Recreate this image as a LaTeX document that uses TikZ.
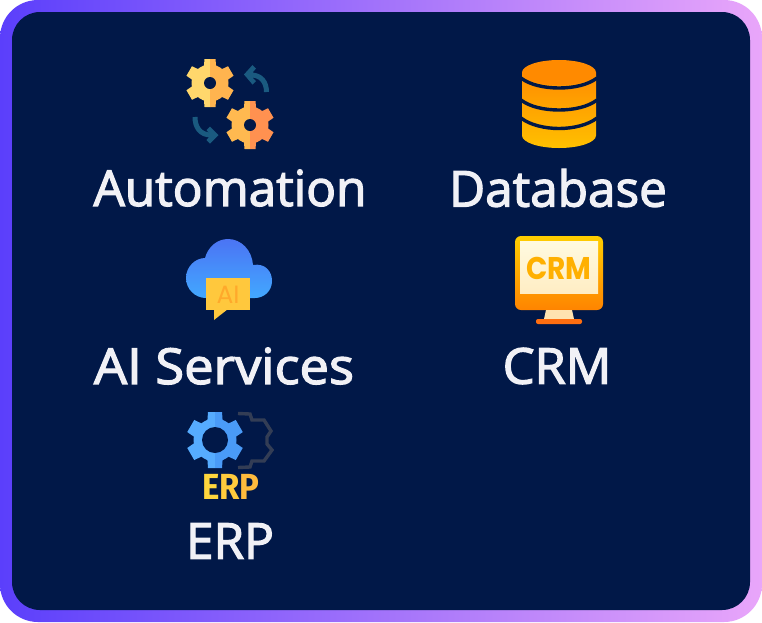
\documentclass[tikz,border=0pt]{standalone}
\usepackage{fontspec}
\setmainfont{Liberation Sans}
\newfontfamily\labelfont[FakeBold=2.5]{Open Sans}
\newfontfamily\iconfont{Poppins}
\newfontfamily\erpfont{Fira Sans}
\definecolor{panel}{HTML}{011848}
\definecolor{edgeL}{HTML}{5B3FFB}
\definecolor{edgeR}{HTML}{E9A6FA}
\definecolor{labelc}{HTML}{F1F1F6}
\definecolor{arrowc}{HTML}{1A5A80}
\definecolor{gearAl}{HTML}{FFD76C}
\definecolor{gearAr}{HTML}{FFB44F}
\definecolor{gearBl}{HTML}{FFB950}
\definecolor{gearBr}{HTML}{FF9150}
\definecolor{gearCl}{HTML}{56ACFF}
\definecolor{gearCr}{HTML}{4A9BF8}
\definecolor{gearD}{HTML}{333D55}
\definecolor{dbTop}{HTML}{FF8A00}
\definecolor{dbHi}{HTML}{FF8C00}
\definecolor{dbLo}{HTML}{FFC000}
\definecolor{cloudHi}{HTML}{4B74F4}
\definecolor{cloudLo}{HTML}{42A8FF}
\definecolor{bubble}{HTML}{FFC83D}
\definecolor{aitext}{HTML}{FFA92B}
\definecolor{monHi}{HTML}{FFCE00}
\definecolor{monLo}{HTML}{FF8400}
\definecolor{scrHi}{HTML}{FFFAE0}
\definecolor{scrLo}{HTML}{FFEDC4}
\definecolor{stand}{HTML}{FFE3B0}
\definecolor{foot}{HTML}{FF6E10}
\definecolor{crmtext}{HTML}{FFB000}
\definecolor{erpE}{HTML}{FFD63D}
\definecolor{erpR}{HTML}{FFCB3D}
\definecolor{erpP}{HTML}{FFBB3D}
\tikzset{
  lbl/.style={text=labelc,font=\labelfont\fontsize{49.5}{56}\selectfont,inner sep=0pt,anchor=center},
  flow/.style={draw=arrowc,line width=5pt},
  flowhead/.style={fill=arrowc},
  dbline/.style={draw=panel,line width=3.4pt}
}
% cx cy R bodyr rootw tipw left right hole
\newcommand{\geartwo}[9]{%
  \begin{scope}
    \clip (#1-40,#2-40) rectangle (#1,#2+40);
    \fill[#7] (#1,#2) circle (#4);
    \foreach \a in {0,60,...,300}{\fill[#7,shift={(#1,#2)},rotate=\a] (-#5,0) -- (-#6,-#3) -- (#6,-#3) -- (#5,0) -- cycle;}
  \end{scope}
  \begin{scope}
    \clip (#1,#2-40) rectangle (#1+40,#2+40);
    \fill[#8] (#1,#2) circle (#4);
    \foreach \a in {0,60,...,300}{\fill[#8,shift={(#1,#2)},rotate=\a] (-#5,0) -- (-#6,-#3) -- (#6,-#3) -- (#5,0) -- cycle;}
  \end{scope}
  \fill[panel] (#1,#2) circle (#9);
}
\begin{document}
\begin{tikzpicture}[x=1pt,y=-1pt]
\useasboundingbox (0,0) rectangle (762,622);
\fill[white] (0,0) rectangle (762,622);
% frame
\shade[left color=edgeL,right color=edgeR,rounded corners=38pt] (0,0) rectangle (762,622);
\fill[panel,rounded corners=28pt] (12,12) rectangle (750,610);

% Automation icon
\geartwo{210}{83}{24}{18.5}{7.5}{5.5}{gearAl}{gearAr}{6}
\geartwo{250}{125}{24}{18.5}{7.5}{5.5}{gearBl}{gearBr}{6}
\draw[flow] (266.5,92) .. controls (266.5,82) and (261,75) .. (251,75);
\fill[flowhead] (244,74.5) -- (252.5,65) -- (256,68.5) -- (253,72) -- (253,78) -- (256,81) -- (252.5,84.5) -- cycle;
\draw[flow] (195,117) .. controls (195,127) and (200,135) .. (211,135);
\fill[flowhead] (218.5,135) -- (210,126.5) -- (206.5,130) -- (209,133) -- (209,137) -- (206.5,140) -- (210,143.5) -- cycle;

% Database icon
\shade[top color=dbHi,bottom color=dbLo] (522,72.5) -- (596,72.5) -- (596,135.5) .. controls (596,142.5) and (579,148) .. (559,148) .. controls (539,148) and (522,142.5) .. (522,135.5) -- cycle;
\draw[dbline] (521,78) .. controls (530,85) and (545,88) .. (559,88) .. controls (573,88) and (588,85) .. (597,78);
\draw[dbline] (521,100) .. controls (530,107) and (545,110) .. (559,110) .. controls (573,110) and (588,107) .. (597,100);
\draw[dbline] (521,118) .. controls (530,125) and (545,128.5) .. (559,128.5) .. controls (573,128.5) and (588,125) .. (597,118);
\fill[dbTop] (559,72.5) ellipse (37 and 12.5);

% AI Services icon
\shade[top color=cloudHi,bottom color=cloudLo] (206,298) .. controls (195,298) and (186,289) .. (186,278) .. controls (186,267) and (195,258) .. (205,258) .. controls (208,247) and (217,239) .. (228,239) .. controls (241,239) and (252,250) .. (253,265) .. controls (265,263) and (272,271) .. (272,281) .. controls (272,291) and (264,298) .. (255,298) -- cycle;
\fill[bubble] (206,278) rectangle (250,310);
\fill[bubble] (214,309) -- (214,320) -- (228,309) -- cycle;
\node[text=aitext,font=\iconfont\fontsize{25}{28}\selectfont,inner sep=0pt] (aiicon) at (228,295) {AI};

% CRM icon
\shade[top color=monHi,bottom color=monLo,rounded corners=6pt] (515,236) rectangle (603,310);
\shade[top color=scrHi,bottom color=scrLo] (520,241) rectangle (598,293);
\fill[stand] (546,310) -- (572,310) -- (574,319) -- (544,319) -- cycle;
\fill[foot,rounded corners=2pt] (536,319) rectangle (582,324);
\node[text=crmtext,font=\iconfont\bfseries\fontsize{28}{30}\selectfont,inner sep=0pt] (crmicon) at (559,268.5) {\scalebox{1}[1.12]{CRM}};

% ERP icon
\draw[draw=gearD,line width=3.4pt,line join=miter] (238,413.5) -- (250,414) -- (252,420) -- (264,420) -- (271,431) -- (267,437) -- (267,444) -- (272,450) -- (264,461) -- (252,461) -- (250,467) -- (238,467.5);
\geartwo{215}{440}{28}{21.5}{9}{7}{gearCl}{gearCr}{13}
\node[font=\erpfont\bfseries\fontsize{33}{35}\selectfont,inner sep=0pt] (erpicon) at (231,487) {\scalebox{1}[1.1]{\textcolor{erpE}{E}\textcolor{erpR}{R}\textcolor{erpP}{P}}};

% Labels
\node[lbl] (automation) at (230,188) {Automation};
\node[lbl] (database) at (558,188) {Database};
\node[lbl] (aiservices) at (224,366) {\scalebox{1.06}[1]{AI Services}};
\node[lbl] (crm) at (557,366) {\scalebox{1.02}[1]{CRM}};
\node[lbl] (erp) at (230,541) {ERP};
\end{tikzpicture}
\end{document}
